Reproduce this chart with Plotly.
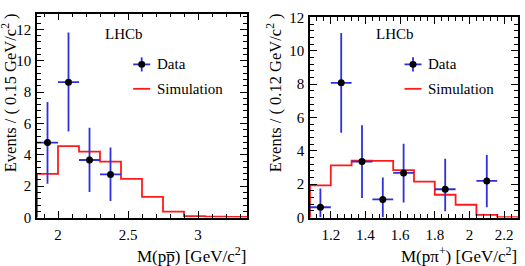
import plotly.graph_objects as go

W, H = 525, 266

# ---------------- data: M(p pbar) panel ----------------
ppbar_edges = [1.85, 2.0, 2.15, 2.3, 2.45, 2.6, 2.75, 2.9, 3.05, 3.2, 3.35]
ppbar_sim = [2.78, 4.56, 4.20, 3.57, 2.47, 1.32, 0.38, 0.09, 0.06, 0.05]
ppbar_x = [1.925, 2.075, 2.225, 2.375]
ppbar_y = [4.78, 8.63, 3.67, 2.75]
ppbar_up = [7.37, 11.80, 5.72, 4.46]
ppbar_lo = [2.15, 5.48, 1.63, 1.05]
ppbar_halfbin = 0.075

# ---------------- data: M(p pi+) panel ----------------
ppi_edges = [1.08, 1.20, 1.32, 1.44, 1.56, 1.68, 1.80, 1.92, 2.04, 2.16, 2.28]
ppi_sim = [1.93, 3.13, 3.42, 3.40, 2.84, 2.15, 1.37, 0.77, 0.16, 0.02]
ppi_x = [1.14, 1.26, 1.38, 1.50, 1.62, 1.86, 2.10]
ppi_y = [0.62, 8.08, 3.36, 1.09, 2.68, 1.70, 2.20]
ppi_up = [1.74, 11.06, 5.53, 2.40, 4.43, 3.53, 3.75]
ppi_lo = [0.00, 5.08, 1.18, 0.00, 0.90, 0.38, 0.62]
ppi_halfbin = 0.06

FONT = "Liberation Serif"
BLUE = "#2f2fe0"
RED = "#ff1a1a"


def px(x):
    return x / W


def py(y):
    return 1 - y / H


fig = go.Figure()


def add_panel(edges, sim, xs, ys, up, lo, hb, xa, ya):
    sx = [edges[0]] + list(edges)
    sy = [0] + list(sim) + [sim[-1]]
    fig.add_trace(go.Scatter(x=sx, y=sy, mode="lines", line_shape="hv",
                             line=dict(color=RED, width=1.8),
                             xaxis=xa, yaxis=ya, showlegend=False, hoverinfo="skip"))
    fig.add_trace(go.Scatter(
        x=xs, y=ys, mode="markers",
        marker=dict(color="black", size=7),
        error_y=dict(type="data", symmetric=False,
                     array=[u - v for u, v in zip(up, ys)],
                     arrayminus=[v - l for v, l in zip(ys, lo)],
                     color=BLUE, thickness=1.8, width=0),
        error_x=dict(type="data", array=[hb] * len(xs), color=BLUE, thickness=1.8, width=0),
        xaxis=xa, yaxis=ya, showlegend=False, hoverinfo="skip"))


add_panel(ppbar_edges, ppbar_sim, ppbar_x, ppbar_y, ppbar_up, ppbar_lo, ppbar_halfbin, "x", "y")
add_panel(ppi_edges, ppi_sim, ppi_x, ppi_y, ppi_up, ppi_lo, ppi_halfbin, "x2", "y2")

tickfont = dict(family=FONT, size=15, color="black")
common = dict(showline=True, linecolor="black", linewidth=1.6, mirror="allticks",
              ticks="inside", ticklen=7, tickwidth=1.2, tickcolor="black",
              showgrid=False, zeroline=False, tickfont=tickfont)

fig.update_layout(
    width=W, height=H, margin=dict(l=0, r=0, t=0, b=0),
    paper_bgcolor="white", plot_bgcolor="white", showlegend=False,
    xaxis=dict(domain=[px(37), px(247)], range=[1.85, 3.35], tick0=2, dtick=0.5,
               minor=dict(dtick=0.1, ticks="inside", ticklen=4, tickcolor="black", showgrid=False),
               anchor="y", ticklabelstandoff=3, **common),
    yaxis=dict(domain=[py(223), py(6)], range=[0, 13], tick0=0, dtick=2,
               minor=dict(dtick=0.4, ticks="inside", ticklen=4, tickcolor="black", showgrid=False),
               anchor="x", ticklabelstandoff=1, **common),
    xaxis2=dict(domain=[px(310), px(518)], range=[1.08, 2.28], tick0=1.2, dtick=0.2,
                minor=dict(dtick=0.04, ticks="inside", ticklen=4, tickcolor="black", showgrid=False),
                anchor="y2", ticklabelstandoff=3, **common),
    yaxis2=dict(domain=[py(223), py(10)], range=[0, 12], tick0=0, dtick=2,
                minor=dict(dtick=0.4, ticks="inside", ticklen=4, tickcolor="black", showgrid=False),
                anchor="x2", ticklabelstandoff=1, **common),
)

title_font = dict(family=FONT, size=17, color="black")
ytitle_font = dict(family=FONT, size=16.5, color="black")
leg_font = dict(family=FONT, size=15, color="black")

annotations = [
    # axis titles
    dict(x=px(248), y=py(248.5), text="M(pp\u0305) [GeV/c<sup>2</sup>]", xanchor="right", yanchor="top",
         font=title_font),
    dict(x=px(519), y=py(248.5), text="M(p\u03c0<sup>+</sup>) [GeV/c<sup>2</sup>]", xanchor="right",
         yanchor="top", font=title_font),
    dict(x=px(9), y=py(4), text="Events / ( 0.15 GeV/c<sup>2</sup> )", textangle=-90,
         xanchor="center", yanchor="top", font=ytitle_font),
    dict(x=px(274), y=py(4), text="Events / ( 0.12 GeV/c<sup>2</sup> )", textangle=-90,
         xanchor="center", yanchor="top", font=ytitle_font),
]
for a in annotations:
    a.update(xref="paper", yref="paper", showarrow=False)

# LHCb labels and legend texts
for (x, y, t) in [(124, 28, "LHCb"), (395, 28, "LHCb")]:
    annotations.append(dict(x=px(x), y=py(y), text=t, xref="paper", yref="paper",
                            showarrow=False, xanchor="center", yanchor="middle", font=leg_font))
for (x, y, t) in [(155, 60, "Data"), (155, 86, "Simulation"), (426, 60, "Data"), (426, 86, "Simulation")]:
    annotations.append(dict(x=px(x), y=py(y), text=t, xref="paper", yref="paper",
                            showarrow=False, xanchor="left", yanchor="middle", font=leg_font))

fig.update_layout(annotations=annotations)

# legend symbols
shapes = []
for cx in (141.7, 413.0):
    shapes.append(dict(type="line", x0=px(cx - 8.5), x1=px(cx + 8.5), y0=py(60), y1=py(60),
                       line=dict(color=BLUE, width=1.8)))
    shapes.append(dict(type="line", x0=px(cx), x1=px(cx), y0=py(52.5), y1=py(67.5),
                       line=dict(color=BLUE, width=1.8)))
    shapes.append(dict(type="circle", x0=px(cx - 3.5), x1=px(cx + 3.5), y0=py(63.5), y1=py(56.5),
                       fillcolor="black", line=dict(color="black", width=0)))
    shapes.append(dict(type="line", x0=px(cx - 8.5), x1=px(cx + 8.5), y0=py(86), y1=py(86),
                       line=dict(color=RED, width=1.8)))
for s in shapes:
    s.update(xref="paper", yref="paper")
fig.update_layout(shapes=shapes)

fig.write_html("out.html")
